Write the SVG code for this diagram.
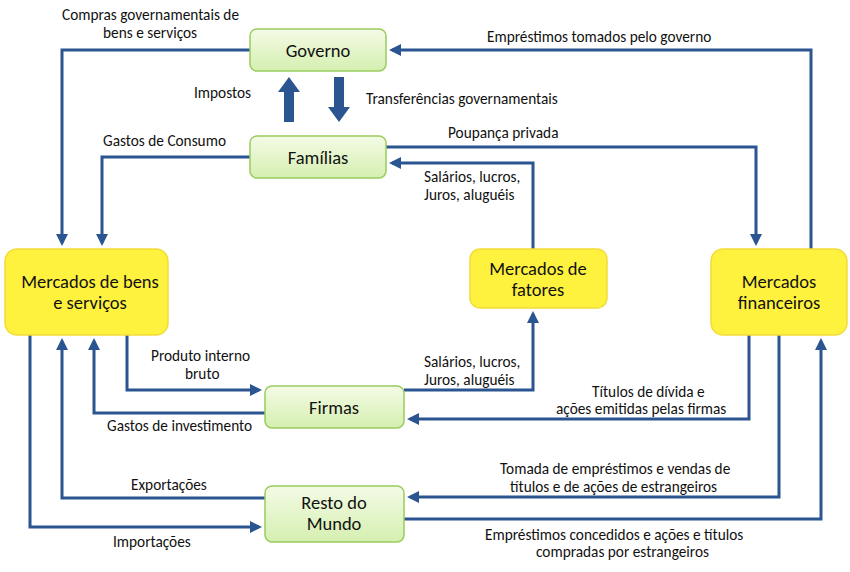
<svg xmlns="http://www.w3.org/2000/svg" width="850" height="572" viewBox="0 0 850 572">
<defs>
<linearGradient id="g" x1="0" y1="0" x2="0" y2="1"><stop offset="0" stop-color="#f4fbe6"/><stop offset="1" stop-color="#d5efb0"/></linearGradient>
<marker id="a" markerWidth="4" markerHeight="4" refX="3" refY="2" orient="auto" markerUnits="strokeWidth"><path d="M0,0 L4,2 L0,4 Z" fill="#2a5590"/></marker>
<style>
.g rect{fill:url(#g);stroke:#9bcc5e;stroke-width:1.5}
.y rect{fill:#fff23f;stroke:#f2dc3a;stroke-width:1.5}
text{font-family:Calibri,Carlito,"Liberation Sans",sans-serif;fill:#111}
.n{font-size:18.5px;text-anchor:middle}
.l{font-size:15.3px}
.c path{fill:none;stroke:#2a5590;stroke-width:3;marker-end:url(#a)}
</style>
</defs>
<rect width="850" height="572" fill="#fff"/>
<g class="c">
<path d="M250,50 H62 V243"/>
<path d="M250,157 H102 V243"/>
<path d="M811,249 V50 H392"/>
<path d="M386,147 H756 V243"/>
<path d="M533,249 V163 H392"/>
<path d="M404,390 H533 V314"/>
<path d="M749,335 V419 H410"/>
<path d="M127,335 V390 H259"/>
<path d="M265,413 H94 V341"/>
<path d="M265,498 H62 V341"/>
<path d="M30,335 V527 H259"/>
<path d="M779,335 V497 H410"/>
<path d="M404,519 H821 V341"/>
</g>
<g id="bigarrows" fill="#2a5590">
<path d="M284,122 V92 H278 L289,77 L300,92 H294 V122 Z"/>
<path d="M334,77 V107 H328 L339,122 L350,107 H344 V77 Z"/>
</g>
<g id="governo" class="g"><rect x="250" y="29" width="136" height="42" rx="7"/><text class="n" x="318" y="57">Governo</text></g>
<g id="familias" class="g"><rect x="250" y="136" width="136" height="42" rx="7"/><text class="n" x="318" y="164">Famílias</text></g>
<g id="bens" class="y"><rect x="5" y="249" width="163" height="86" rx="12"/><text class="n" x="90" y="288">Mercados de bens</text><text class="n" x="90" y="309">e serviços</text></g>
<g id="fatores" class="y"><rect x="470" y="249" width="137" height="59" rx="10"/><text class="n" x="538" y="275">Mercados de</text><text class="n" x="538" y="296">fatores</text></g>
<g id="financeiros" class="y"><rect x="711" y="249" width="136" height="86" rx="12"/><text class="n" x="779" y="288">Mercados</text><text class="n" x="779" y="309">financeiros</text></g>
<g id="firmas" class="g"><rect x="265" y="386" width="139" height="42" rx="7"/><text class="n" x="334" y="414">Firmas</text></g>
<g id="resto" class="g"><rect x="265" y="486" width="139" height="56" rx="7"/><text class="n" x="334" y="509">Resto do</text><text class="n" x="334" y="530">Mundo</text></g>
<g id="labels" class="l">
<text x="62" y="20">Compras governamentais de</text>
<text x="103" y="38">bens e serviços</text>
<text x="487" y="42">Empréstimos tomados pelo governo</text>
<text x="194" y="98">Impostos</text>
<text x="366" y="104">Transferências governamentais</text>
<text x="103" y="146">Gastos de Consumo</text>
<text x="448" y="138">Poupança privada</text>
<text x="424" y="182">Salários, lucros,</text>
<text x="424" y="200">Juros, aluguéis</text>
<text x="151" y="361">Produto interno</text>
<text x="185" y="379">bruto</text>
<text x="424" y="367">Salários, lucros,</text>
<text x="424" y="385">Juros, aluguéis</text>
<text x="592" y="397">Títulos de dívida e</text>
<text x="556" y="414">ações emitidas pelas firmas</text>
<text x="107" y="431">Gastos de investimento</text>
<text x="500" y="474">Tomada de empréstimos e vendas de</text>
<text x="510" y="492">títulos e de ações de estrangeiros</text>
<text x="131" y="490">Exportações</text>
<text x="113" y="547">Importações</text>
<text x="485" y="540">Empréstimos concedidos e ações e títulos</text>
<text x="536" y="557">compradas por estrangeiros</text>
</g>
</svg>
